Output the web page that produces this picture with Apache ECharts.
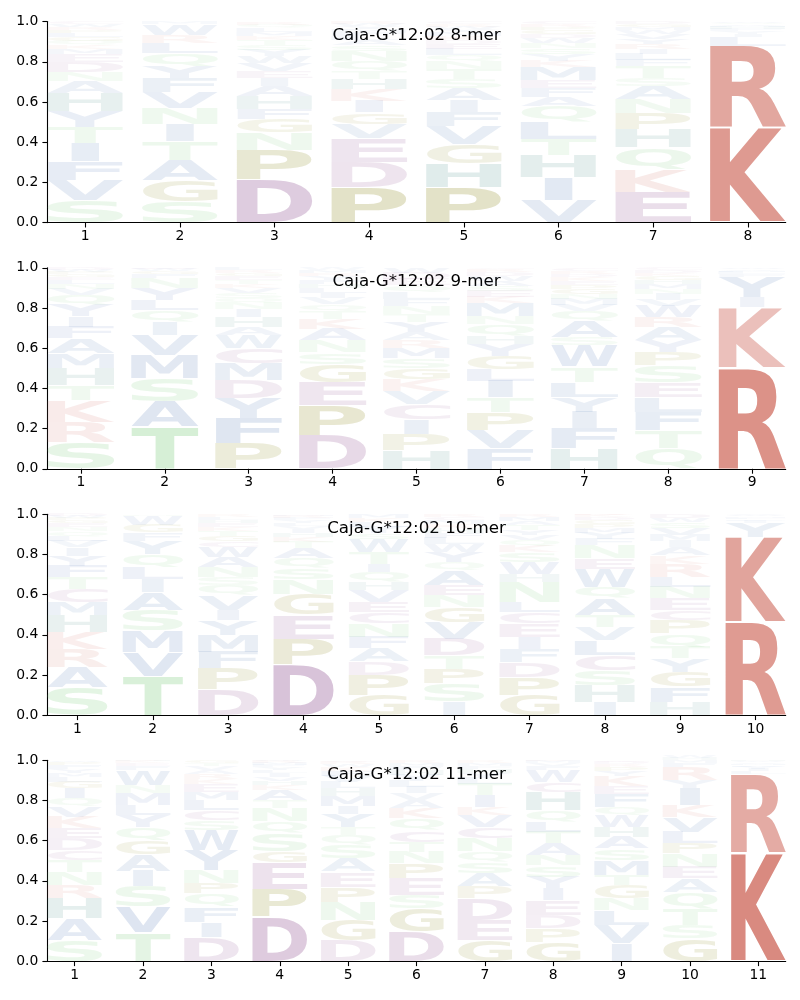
<!DOCTYPE html>
<html><head><meta charset="utf-8">
<script src="https://cdn.jsdelivr.net/npm/echarts@6/dist/echarts.min.js"></script>
<style>html,body{margin:0;padding:0;background:#fff}#c{width:800px;height:1000px}</style>
</head><body><div id="c"></div>
<script>
// ---- DATA (bottom-to-top letter stacks per position) ----
const titles = ['Caja-G*12:02 8-mer', 'Caja-G*12:02 9-mer', 'Caja-G*12:02 10-mer', 'Caja-G*12:02 11-mer'];
const yTicks = [0, 0.2, 0.4, 0.6, 0.8, 1.0];

const mer8Letters = [
  'SVFITYHANDEMKQGLPRWC',
  'SGATINVFYQLRWM',
  'DPNGFHAIEVWYSTKMLQR',
  'PDEVGIKHTQNSALFMYWR',
  'PHGVFIASTNQLEDKMYWRC',
  'VIHTLQAFEMKYSNWDGPRC',
  'EKQHPNASTFLIRYVWMGD',
  'KRLIYFHMVQW'
];
const mer8Heights = [
  [0.11,0.10,0.095,0.09,0.08,0.08,0.09,0.06,0.045,0.05,0.04,0.025,0.02,0.02,0.02,0.02,0.015,0.015,0.015,0.01],
  [0.105,0.105,0.10,0.095,0.085,0.08,0.08,0.07,0.06,0.065,0.05,0.04,0.055,0.01],
  [0.215,0.145,0.088,0.066,0.05,0.066,0.05,0.04,0.035,0.04,0.035,0.03,0.025,0.025,0.02,0.02,0.02,0.015,0.015],
  [0.175,0.125,0.12,0.07,0.058,0.058,0.058,0.05,0.04,0.05,0.05,0.03,0.025,0.02,0.02,0.015,0.015,0.011,0.01],
  [0.175,0.12,0.093,0.09,0.07,0.06,0.06,0.045,0.05,0.04,0.03,0.03,0.025,0.02,0.02,0.02,0.015,0.012,0.012,0.013],
  [0.11,0.115,0.11,0.08,0.088,0.078,0.045,0.045,0.04,0.065,0.03,0.03,0.03,0.025,0.025,0.02,0.02,0.015,0.015,0.014],
  [0.15,0.115,0.108,0.09,0.08,0.07,0.066,0.04,0.058,0.03,0.03,0.025,0.025,0.025,0.025,0.02,0.015,0.015,0.013],
  [0.47,0.41,0.045,0.015,0.012,0.01,0.01,0.008,0.008,0.006,0.006]
];

const mer9Letters = [
  'SRKTHMAFIYQVNLEGPWD',
  'TASMVIQLYNFGWE',
  'PFYDMCWAHINQSVKTEGRL',
  'DPEGSNAKTQVILHFYRMW',
  'HPICVKGSMRAYTNFLQEDW',
  'FVPTILGYHQNMKESAWDRC',
  'HFIYLTWSAQVMNGPEKDRC',
  'QTFLESPYARWVINMHGKDC',
  'RKIYFLMVW'
];
const mer9Heights = [
  [0.133,0.1,0.108,0.075,0.083,0.075,0.075,0.058,0.05,0.058,0.05,0.03,0.025,0.02,0.015,0.015,0.01,0.01,0.01],
  [0.208,0.125,0.116,0.116,0.1,0.066,0.058,0.05,0.058,0.05,0.02,0.015,0.01,0.008],
  [0.125,0.125,0.1,0.09,0.083,0.075,0.066,0.04,0.05,0.04,0.03,0.025,0.025,0.025,0.02,0.02,0.02,0.015,0.015,0.011],
  [0.166,0.15,0.116,0.09,0.058,0.058,0.058,0.05,0.04,0.035,0.03,0.025,0.025,0.02,0.02,0.02,0.015,0.015,0.01],
  [0.09,0.08,0.075,0.075,0.065,0.06,0.055,0.05,0.05,0.04,0.04,0.05,0.04,0.04,0.035,0.035,0.035,0.03,0.03,0.025],
  [0.1,0.09,0.09,0.075,0.083,0.058,0.066,0.058,0.04,0.058,0.04,0.066,0.03,0.03,0.025,0.025,0.025,0.02,0.015,0.006],
  [0.1,0.1,0.083,0.075,0.075,0.075,0.108,0.04,0.08,0.05,0.03,0.03,0.025,0.025,0.02,0.02,0.02,0.015,0.015,0.014],
  [0.1,0.09,0.09,0.075,0.075,0.083,0.066,0.058,0.066,0.05,0.058,0.03,0.03,0.025,0.025,0.02,0.02,0.015,0.015,0.01],
  [0.505,0.30,0.05,0.1,0.012,0.01,0.008,0.008,0.007]
];

const mer10Letters = [
  'SARKHMCTFYIVLQNEGPWD',
  'TVMSAILQYFGWN',
  'DPFMYIVQSNAWCGTKEHLR',
  'DPEGNSQATKHIVLYFRM',
  'GPDAFNCEVHQITWSYLKM',
  'ISPTDVGNEAQYWLFHKMCR',
  'GPDFIECLNHWSKQVYTAMR',
  'IHSCLVTAQWENFYMPGDKR',
  'HFGYTQPCENLRKAIMVSWD',
  'RKYIFLMWV'
];
const mer10Heights = [
  [0.14,0.1,0.09,0.083,0.083,0.066,0.066,0.058,0.058,0.05,0.04,0.03,0.025,0.025,0.02,0.02,0.015,0.01,0.01,0.01],
  [0.194,0.12,0.108,0.1,0.09,0.066,0.058,0.066,0.066,0.04,0.04,0.045,0.007],
  [0.128,0.104,0.083,0.083,0.075,0.05,0.075,0.05,0.04,0.05,0.05,0.05,0.03,0.025,0.025,0.02,0.02,0.015,0.015,0.012],
  [0.25,0.13,0.12,0.1,0.075,0.058,0.05,0.05,0.03,0.025,0.02,0.02,0.015,0.015,0.015,0.01,0.01,0.007],
  [0.1,0.1,0.066,0.066,0.058,0.066,0.058,0.05,0.058,0.04,0.05,0.04,0.058,0.066,0.03,0.03,0.025,0.02,0.019],
  [0.066,0.09,0.075,0.066,0.083,0.083,0.075,0.058,0.05,0.075,0.04,0.05,0.04,0.03,0.025,0.025,0.02,0.02,0.015,0.014],
  [0.1,0.09,0.075,0.066,0.058,0.066,0.058,0.05,0.1,0.04,0.058,0.05,0.03,0.03,0.025,0.025,0.025,0.02,0.02,0.014],
  [0.066,0.083,0.075,0.075,0.075,0.066,0.058,0.083,0.058,0.09,0.05,0.066,0.03,0.03,0.025,0.02,0.02,0.015,0.01,0.005],
  [0.066,0.075,0.075,0.066,0.058,0.066,0.066,0.05,0.058,0.058,0.05,0.066,0.04,0.04,0.03,0.03,0.035,0.03,0.02,0.021],
  [0.464,0.423,0.07,0.01,0.008,0.008,0.006,0.006,0.005]
];

const mer11Letters = [
  'SAHRNTCDEKVQIGLMYFPW',
  'TVSIAGQYLMNWFEKH',
  'DIFQPNYWSCLMEKRAVTG',
  'DPEGSQNTAKHVILYFMRW',
  'DGNPEASQTYIMHLVFKWRC',
  'DGSEPNTCQKAVILYHFMR',
  'GEDPASQNCVKITLYHFMR',
  'GPDEIYSNATLQHCWFVMK',
  'IVLNGTMSAHWQFEKYPRDC',
  'GSTQAENPLVKIYRFMHW',
  'KRLIYFMVWH'
];
const mer11Heights = [
  [0.105,0.108,0.1,0.066,0.066,0.058,0.05,0.058,0.05,0.058,0.05,0.04,0.05,0.033,0.025,0.02,0.02,0.02,0.015,0.008],
  [0.143,0.128,0.1,0.078,0.083,0.071,0.066,0.058,0.05,0.058,0.04,0.075,0.02,0.015,0.01,0.005],
  [0.121,0.075,0.075,0.066,0.05,0.066,0.1,0.1,0.05,0.05,0.05,0.04,0.04,0.025,0.025,0.02,0.02,0.015,0.012],
  [0.22,0.14,0.13,0.058,0.09,0.058,0.066,0.04,0.05,0.025,0.02,0.02,0.02,0.015,0.015,0.01,0.01,0.01,0.003],
  [0.105,0.1,0.09,0.075,0.075,0.066,0.066,0.05,0.04,0.066,0.04,0.05,0.04,0.03,0.03,0.025,0.02,0.015,0.01,0.007],
  [0.146,0.116,0.066,0.083,0.075,0.058,0.05,0.058,0.058,0.05,0.04,0.035,0.03,0.03,0.03,0.025,0.02,0.015,0.015],
  [0.105,0.1,0.108,0.058,0.066,0.058,0.05,0.066,0.058,0.058,0.04,0.058,0.058,0.03,0.025,0.02,0.015,0.015,0.012],
  [0.096,0.066,0.066,0.075,0.058,0.058,0.058,0.05,0.058,0.058,0.05,0.058,0.09,0.05,0.058,0.02,0.015,0.01,0.006],
  [0.088,0.09,0.075,0.058,0.066,0.05,0.075,0.058,0.058,0.05,0.058,0.04,0.066,0.04,0.05,0.025,0.02,0.015,0.01,0.008],
  [0.113,0.066,0.083,0.083,0.066,0.058,0.066,0.05,0.058,0.075,0.058,0.083,0.04,0.066,0.02,0.015,0.01,0.01],
  [0.54,0.39,0.015,0.012,0.01,0.008,0.008,0.007,0.005,0.005]
];

const allLetters = [mer8Letters, mer9Letters, mer10Letters, mer11Letters];
const allHeights = [mer8Heights, mer9Heights, mer10Heights, mer11Heights];

// ---- STYLE ----
const FONT_FAMILY = '"DejaVu Sans"';
const GLYPH_FONT = 'bold 100px ' + FONT_FAMILY;
const HALF_W = 0.4;
const VPAD = 0.025;
const gridTops = [21.6, 267.8, 514.2, 760.2];
const gridH = 201;
const gridLeft = 47.3, gridRight = 14.3;

const classRGB = {
  red: [217,138,128], purple: [168,120,170], olive: [160,158,70],
  green: [140,210,140], blue: [96,132,187], teal: [96,155,150]
};
const letterClass = {
  K:'red', R:'red', D:'purple', E:'purple', C:'purple', P:'olive', G:'olive',
  S:'green', T:'green', N:'green', Q:'green', H:'teal',
  A:'blue', V:'blue', L:'blue', I:'blue', M:'blue', F:'blue', W:'blue', Y:'blue'
};
function colorFor(ch, h) {
  const c = classRGB[letterClass[ch]];
  const op = Math.min(1, Math.max(0.04 + 1.2 * h, 1.93 * h - 0.04));
  return 'rgba(' + c[0] + ',' + c[1] + ',' + c[2] + ',' + op.toFixed(3) + ')';
}

const cv = document.createElement('canvas');
const ctx = cv.getContext('2d');
ctx.font = GLYPH_FONT; ctx.textBaseline = 'middle'; ctx.textAlign = 'left';
const metrics = {};
function metric(ch) {
  if (!metrics[ch]) {
    const m = ctx.measureText(ch);
    metrics[ch] = { l: m.actualBoundingBoxLeft, r: m.actualBoundingBoxRight, a: m.actualBoundingBoxAscent, d: m.actualBoundingBoxDescent };
  }
  return metrics[ch];
}

function makeRender(glyphs) {
  return function (params, api) {
    const x = api.value(0), y0 = api.value(1), y1 = api.value(2);
    const ch = glyphs[params.dataIndex];
    const h = y1 - y0;
    const pad = h * VPAD / 2;
    const bl = api.coord([x - HALF_W, y0 + pad]);
    const tr = api.coord([x + HALF_W, y1 - pad]);
    const boxW = tr[0] - bl[0], boxH = bl[1] - tr[1];
    const m = metric(ch), mE = metric('E');
    const inkW = m.l + m.r, inkH = m.a + m.d;
    const hs = Math.min(boxW / inkW, boxW / (mE.l + mE.r));
    const shift = (boxW - hs * inkW) / 2;
    const vs = boxH / inkH;
    return {
      type: 'text', silent: true,
      x: bl[0] + shift + hs * m.l, y: tr[1] + vs * m.a,
      scaleX: hs, scaleY: vs,
      style: { text: ch, font: GLYPH_FONT, fill: colorFor(ch, h), align: 'left', verticalAlign: 'middle' }
    };
  };
}

const grids = [], xAxes = [], yAxes = [], series = [], graphics = [];
const axisFont = { fontFamily: FONT_FAMILY, fontSize: 13.9, color: '#000' };
allLetters.forEach(function (letters, p) {
  const n = letters.length;
  grids.push({ left: gridLeft, right: gridRight, top: gridTops[p], height: gridH });
  const positions = [];
  for (let i = 1; i <= n; i++) positions.push(i);
  xAxes.push({
    type: 'value', gridIndex: p, min: 0.6, max: n + 0.4,
    axisLine: { show: true, onZero: false, lineStyle: { color: '#000', width: 1.1 } },
    axisTick: { show: true, length: 4.9, lineStyle: { color: '#000', width: 1.1 }, customValues: positions },
    axisLabel: Object.assign({ margin: 7, customValues: positions, formatter: function (v) { return String(v); } }, axisFont),
    splitLine: { show: false }
  });
  yAxes.push({
    type: 'value', gridIndex: p, min: 0, max: 1, interval: 0.2,
    axisLine: { show: true, lineStyle: { color: '#000', width: 1.1 } },
    axisTick: { show: true, length: 4.9, lineStyle: { color: '#000', width: 1.1 } },
    axisLabel: Object.assign({ margin: 9, formatter: function (v) { return v.toFixed(1); } }, axisFont),
    splitLine: { show: false }
  });
  const data = [], glyphs = [];
  letters.forEach(function (col, i) {
    let y = 0;
    const hs = allHeights[p][i];
    for (let j = 0; j < col.length; j++) {
      data.push([i + 1, y, y + hs[j]]);
      glyphs.push(col[j]);
      y += hs[j];
    }
  });
  series.push({
    type: 'custom', xAxisIndex: p, yAxisIndex: p, data: data,
    encode: { x: 0, y: [1, 2] }, renderItem: makeRender(glyphs), animation: false, silent: true
  });
  graphics.push({
    type: 'text', x: gridLeft + (800 - gridLeft - gridRight) / 2, y: gridTops[p] + 14.3,
    style: { text: titles[p], font: '16.7px ' + FONT_FAMILY, fill: '#000', align: 'center', verticalAlign: 'middle' }
  });
});

const chart = echarts.init(document.getElementById('c'), null, { renderer: 'canvas' });
chart.setOption({
  backgroundColor: '#fff', animation: false,
  grid: grids, xAxis: xAxes, yAxis: yAxes, series: series, graphic: graphics
});
</script>
</body></html>
